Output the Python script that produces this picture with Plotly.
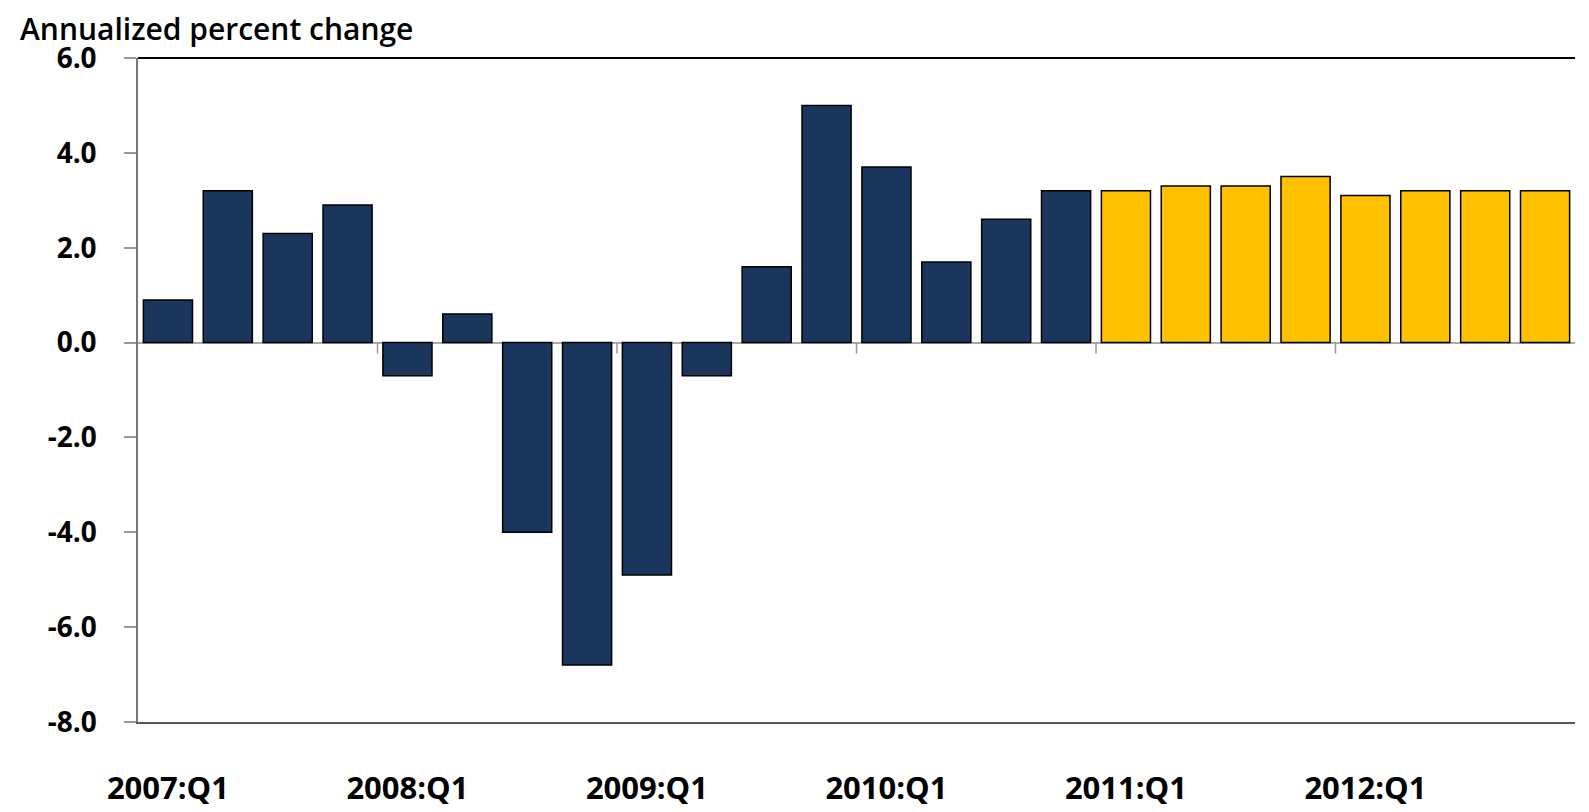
import plotly.graph_objects as go

# quarterly real GDP growth, annualized (actual through 2010:Q4, projection after)
quarters = [f"{yr}:Q{q}" for yr in range(2007, 2013) for q in range(1, 5)]
actual = [0.9, 3.2, 2.3, 2.9, -0.7, 0.6, -4.0, -6.8,
          -4.9, -0.7, 1.6, 5.0, 3.7, 1.7, 2.6, 3.2]
projected = [3.2, 3.3, 3.3, 3.5, 3.1, 3.2, 3.2, 3.2]
year_labels = ["2007:Q1", "2008:Q1", "2009:Q1", "2010:Q1", "2011:Q1", "2012:Q1"]
y_ticks = [6, 4, 2, 0, -2, -4, -6, -8]

navy = "#1a365d"
gold = "#ffc000"
font = "Open Sans"

fig = go.Figure()
fig.add_trace(go.Bar(x=quarters[:len(actual)], y=actual, marker_color=navy,
                     marker_line=dict(color="black", width=1.5)))
fig.add_trace(go.Bar(x=quarters[len(actual):], y=projected, marker_color=gold,
                     marker_line=dict(color="black", width=1.5)))

# small ticks hanging from the zero line at year boundaries
for i in range(4, len(quarters), 4):
    fig.add_shape(type="line", xref="x", yref="y", x0=i - 0.5, x1=i - 0.5,
                  ysizemode="pixel", yanchor=0, y0=0, y1=-11,
                  line=dict(color="#999999", width=1.5))

fig.update_layout(
    width=1589, height=812,
    margin=dict(l=130, r=22, t=50, b=89),
    plot_bgcolor="white", paper_bgcolor="white",
    showlegend=False, bargap=0.18, barmode="overlay",
    font=dict(family=font, color="black"),
    title=dict(text="Annualized percent change", x=12 / 1589, xanchor="left",
               xref="container", y=1 - 21 / 812, yref="container", yanchor="middle",
               font=dict(family=font, size=30, color="black", weight=600)),
)
fig.update_xaxes(
    categoryorder="array", categoryarray=quarters,
    range=[-0.5, len(quarters) - 0.5],
    tickvals=year_labels, ticktext=year_labels,
    ticks="", ticklabelstandoff=38,
    tickfont=dict(size=31, family=font, weight="bold"),
    showline=True, linecolor="#555555", linewidth=1.5,
    mirror=False, showgrid=False,
)
fig.update_yaxes(
    range=[-8, 6], tickvals=y_ticks, ticktext=[f"{v:.1f}" for v in y_ticks],
    ticks="outside", ticklen=12, tickcolor="#999999", tickwidth=1.5,
    ticklabelstandoff=22,
    tickfont=dict(size=28, family=font, weight="bold"),
    showline=True, linecolor="#777777", linewidth=1.5,
    showgrid=False, zeroline=True, zerolinecolor="#aaaaaa", zerolinewidth=1.5,
)
# black top border of the plot area
fig.add_shape(type="line", xref="paper", yref="paper", x0=0, x1=1, y0=1, y1=1,
              line=dict(color="black", width=2))

fig.write_html("out.html")
